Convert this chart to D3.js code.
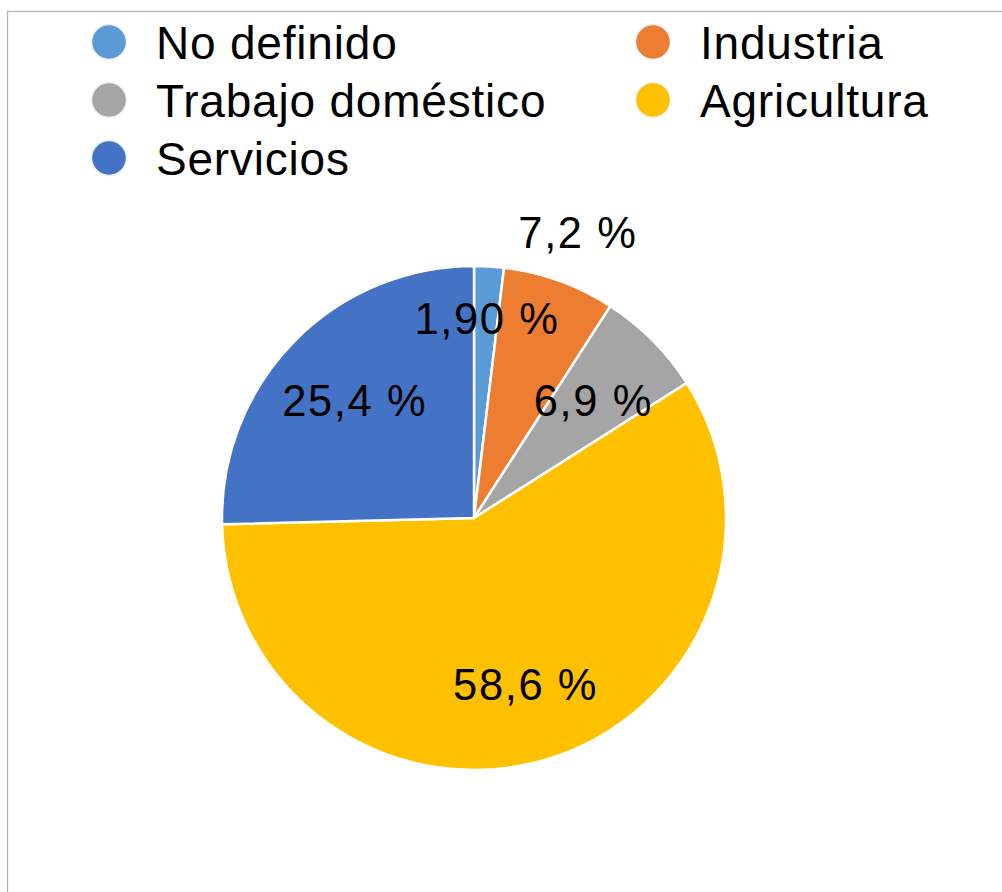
<!DOCTYPE html>
<html>
<head>
<meta charset="utf-8">
<script src="https://cdn.jsdelivr.net/npm/d3@7"></script>
<style>
  body { margin: 0; background: #fff; }
  text { font-family: "Liberation Sans", Arial, Helvetica, sans-serif; fill: #000; }
</style>
</head>
<body>
<div id="chart"></div>
<script>
// sector data
const categories = ["No definido", "Industria", "Trabajo doméstico", "Agricultura", "Servicios"];
const values = [1.9, 7.2, 6.9, 58.6, 25.4];
const valueLabels = ["1,90 %", "7,2 %", "6,9 %", "58,6 %", "25,4 %"];
const colors = ["#5b9bd5", "#ed7d31", "#a5a5a5", "#ffc000", "#4472c4"];

const width = 1002, height = 892;
const cx = 474, cy = 518, radius = 252;

// how far from the centre each label sits (Industria is outside)
const labelRadius = [200, 304, 167, 174, 168];

const svg = d3.select("#chart")
  .append("svg")
  .attr("width", width)
  .attr("height", height);

// frame of the chart area
svg.append("rect")
  .attr("x", 7.5).attr("y", 11.5)
  .attr("width", width + 20).attr("height", height + 20)
  .attr("fill", "none")
  .attr("stroke", "#b4b4b4")
  .attr("stroke-width", 1.3);

const data = categories.map((c, i) => ({ name: c, value: values[i], label: valueLabels[i], color: colors[i] }));

const pie = d3.pie().value(d => d.value).sort(null);
const arcs = pie(data);
const arc = d3.arc().innerRadius(0).outerRadius(radius);

const g = svg.append("g").attr("transform", "translate(" + cx + "," + cy + ")");

g.selectAll("path")
  .data(arcs)
  .enter()
  .append("path")
  .attr("d", arc)
  .attr("fill", d => d.data.color)
  .attr("stroke", "#fff")
  .attr("stroke-width", 2.5)
  .attr("stroke-linejoin", "round");

g.selectAll(".lbl")
  .data(arcs)
  .enter()
  .append("text")
  .attr("class", "lbl")
  .attr("transform", (d, i) => {
    const a = (d.startAngle + d.endAngle) / 2;
    const r = labelRadius[i];
    return "translate(" + (Math.sin(a) * r + 1) + "," + (-Math.cos(a) * r) + ")";
  })
  .attr("text-anchor", "middle")
  .attr("dy", "0.36em")
  .style("font-size", "43.5px")
  .style("letter-spacing", "1.6px")
  .text(d => d.data.label);

// legend, two columns, row-major
const legend = svg.append("g");
const colX = [109, 653], rowY = [42, 100, 158];

const items = legend.selectAll(".item")
  .data(data)
  .enter()
  .append("g")
  .attr("class", "item")
  .attr("transform", (d, i) => "translate(" + colX[i % 2] + "," + rowY[Math.floor(i / 2)] + ")");

items.append("circle")
  .attr("r", 17.5)
  .attr("fill", d => d.color)
  .attr("stroke", "#eef2f8")
  .attr("stroke-width", 1.5);

items.append("text")
  .attr("x", 47)
  .attr("dy", "0.36em")
  .style("font-size", "46px")
  .style("letter-spacing", "0.8px")
  .text(d => d.name);
</script>
</body>
</html>
